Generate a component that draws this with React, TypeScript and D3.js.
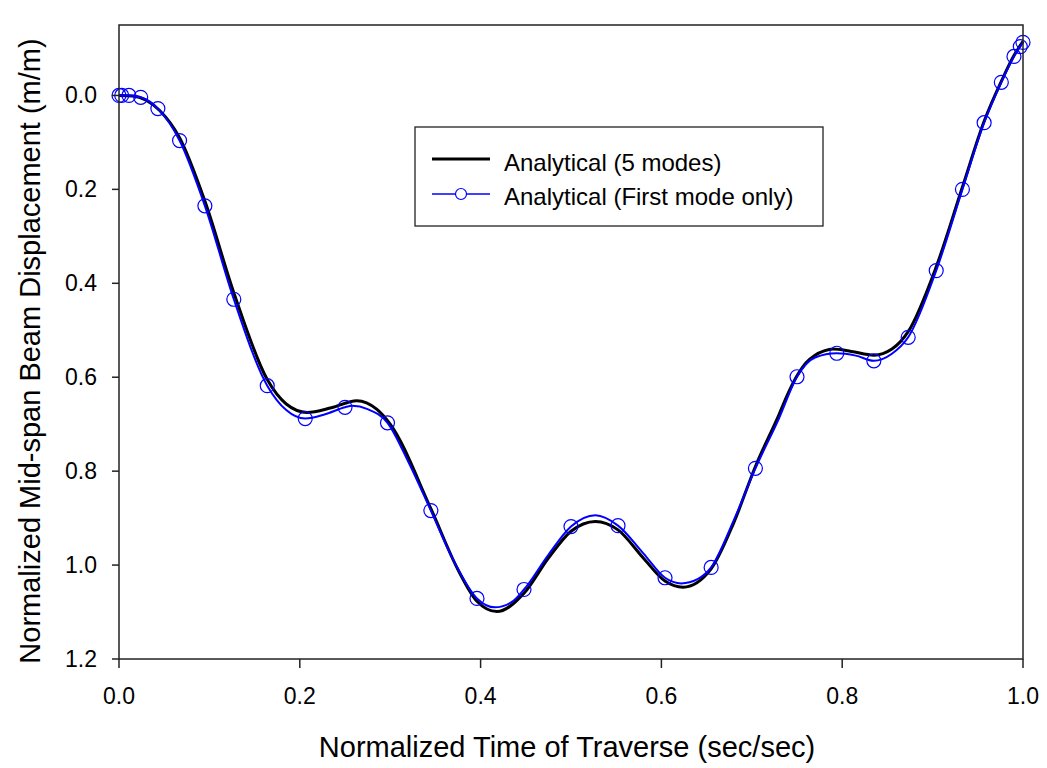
import React from "react";
import * as d3 from "d3";

// Normalized time of traverse (sec/sec) for the 5-mode solution
const fiveModeT = [
  0, 0.015, 0.03, 0.045, 0.067, 0.095, 0.127, 0.164, 0.185, 0.208, 0.235, 0.263,
  0.285, 0.3, 0.345, 0.375, 0.396, 0.418, 0.448, 0.475, 0.5, 0.527, 0.552, 0.58,
  0.604, 0.624, 0.655, 0.68, 0.704, 0.73, 0.74, 0.75, 0.76, 0.77, 0.78, 0.79,
  0.81, 0.835, 0.855, 0.873, 0.904, 0.933, 0.957, 0.976, 0.99, 1.0,
];
// Normalized mid-span displacement (m/m), 5 modes
const fiveModeDisp = [
  0, 0.001, 0.01, 0.032, 0.09, 0.225, 0.42, 0.605, 0.657, 0.675, 0.665, 0.65,
  0.668, 0.7, 0.88, 1.01, 1.077, 1.099, 1.06, 0.985, 0.928, 0.907, 0.925, 0.985,
  1.034, 1.047, 1.008, 0.91, 0.79, 0.68, 0.635, 0.597, 0.569, 0.553, 0.544, 0.54,
  0.545, 0.553, 0.54, 0.503, 0.365, 0.195, 0.055, -0.03, -0.085, -0.115,
];

// First-mode-only solution: continuous curve
const firstModeLineT = [
  0, 0.011, 0.024, 0.043, 0.067, 0.095, 0.127, 0.164, 0.185, 0.206, 0.228, 0.25,
  0.258, 0.275, 0.297, 0.32, 0.345, 0.37, 0.396, 0.416, 0.435, 0.448, 0.475, 0.5,
  0.527, 0.552, 0.58, 0.604, 0.622, 0.64, 0.655, 0.68, 0.704, 0.73, 0.75, 0.77,
  0.794, 0.815, 0.835, 0.855, 0.873, 0.904, 0.933, 0.957, 0.976, 0.99, 1.0,
];
const firstModeLineDisp = [
  0, 0, 0.004, 0.028, 0.096, 0.235, 0.434, 0.618, 0.67, 0.688, 0.679, 0.664,
  0.661, 0.668, 0.697, 0.78, 0.884, 0.99, 1.071, 1.09, 1.078, 1.052, 0.978, 0.918,
  0.894, 0.916, 0.975, 1.027, 1.039, 1.03, 1.005, 0.905, 0.794, 0.688, 0.599, 0.558,
  0.549, 0.554, 0.565, 0.55, 0.515, 0.373, 0.2, 0.058, -0.028, -0.083, -0.113,
];

// First-mode-only solution at the marker times
const firstModeT = [
  0, 0.003, 0.011, 0.024, 0.043, 0.067, 0.095, 0.127, 0.164, 0.206, 0.25, 0.297,
  0.345, 0.396, 0.448, 0.5, 0.552, 0.604, 0.655, 0.704, 0.75, 0.794, 0.835, 0.873,
  0.904, 0.933, 0.957, 0.976, 0.99, 0.997, 1.0,
];
const firstModeDisp = [
  0, 0, 0, 0.004, 0.028, 0.096, 0.235, 0.434, 0.618, 0.688, 0.664, 0.697,
  0.884, 1.071, 1.052, 0.918, 0.916, 1.027, 1.005, 0.794, 0.599, 0.549, 0.565,
  0.515, 0.373, 0.2, 0.058, -0.028, -0.083, -0.104, -0.113,
];

const xTicks = [0, 0.2, 0.4, 0.6, 0.8, 1.0];
const yTicks = [0, 0.2, 0.4, 0.6, 0.8, 1.0, 1.2];

const seriesNames = ["Analytical (5 modes)", "Analytical (First mode only)"];
const xTitle = "Normalized Time of Traverse (sec/sec)";
const yTitle = "Normalized Mid-span Beam Displacement (m/m)";

const W = 1047;
const H = 768;
const M = { left: 119, right: 1023, top: 25, bottom: 659 };
const FONT = "Arial, 'Liberation Sans', Helvetica, sans-serif";
const BLUE = "#0000ff";

export default function App() {
  const x = d3.scaleLinear().domain([0, 1]).range([M.left, M.right]);
  const y = d3.scaleLinear().domain([-0.15, 1.2]).range([M.top, M.bottom]);

  const line = d3
    .line<[number, number]>()
    .x((d) => x(d[0]))
    .y((d) => y(d[1]))
    .curve(d3.curveMonotoneX);

  const fivePts = fiveModeT.map((t, i) => [t, fiveModeDisp[i]] as [number, number]);
  const firstLinePts = firstModeLineT.map(
    (t, i) => [t, firstModeLineDisp[i]] as [number, number]
  );
  const markerPts = firstModeT.map((t, i) => [t, firstModeDisp[i]] as [number, number]);

  const tickLen = 7;
  const fmt = d3.format(".1f");

  const legX = 415;
  const legY = 127;
  const legW = 408;
  const legH = 99;

  return (
    <svg
      width={W}
      height={H}
      style={{ position: "absolute", left: 0, top: 0, background: "#fff" }}
      fontFamily={FONT}
    >
      <rect x={0} y={0} width={W} height={H} fill="#fff" />

      {/* plot curves */}
      <path d={line(fivePts) ?? ""} fill="none" stroke="#000" strokeWidth={3} />
      <path d={line(firstLinePts) ?? ""} fill="none" stroke={BLUE} strokeWidth={2} />
      {markerPts.map((p, i) => (
        <circle
          key={i}
          cx={x(p[0])}
          cy={y(p[1])}
          r={7}
          fill="none"
          stroke={BLUE}
          strokeWidth={1.2}
        />
      ))}

      {/* frame */}
      <rect
        x={M.left}
        y={M.top}
        width={M.right - M.left}
        height={M.bottom - M.top}
        fill="none"
        stroke="#222"
        strokeWidth={1.5}
      />

      {/* x axis ticks and labels */}
      {xTicks.map((t) => (
        <g key={"x" + t}>
          <line x1={x(t)} x2={x(t)} y1={M.bottom} y2={M.bottom + tickLen + 2} stroke="#222" strokeWidth={1.5} />
          <text x={x(t)} y={704} textAnchor="middle" fontSize={23} fill="#000">
            {fmt(t)}
          </text>
        </g>
      ))}

      {/* y axis ticks and labels */}
      {yTicks.map((t) => (
        <g key={"y" + t}>
          <line x1={M.left - tickLen} x2={M.left} y1={y(t)} y2={y(t)} stroke="#222" strokeWidth={1.5} />
          <text x={97} y={y(t)} dy="0.35em" textAnchor="end" fontSize={23} fill="#000">
            {fmt(t)}
          </text>
        </g>
      ))}

      {/* axis titles */}
      <text x={567} y={757} textAnchor="middle" fontSize={29} fill="#000">
        {xTitle}
      </text>
      <text
        transform={`translate(40, 351) rotate(-90)`}
        textAnchor="middle"
        fontSize={29}
        fill="#000"
      >
        {yTitle}
      </text>

      {/* legend */}
      <rect x={legX} y={legY} width={legW} height={legH} fill="#fff" stroke="#222" strokeWidth={1.3} />
      <line x1={432} x2={490} y1={159} y2={159} stroke="#000" strokeWidth={3} />
      <text x={504} y={171} fontSize={24} fill="#000">
        {seriesNames[0]}
      </text>
      <line x1={432} x2={490} y1={194} y2={194} stroke={BLUE} strokeWidth={1.5} />
      <circle cx={461} cy={194} r={5.5} fill="#fff" stroke={BLUE} strokeWidth={1.2} />
      <text x={504} y={205} fontSize={24} fill="#000">
        {seriesNames[1]}
      </text>
    </svg>
  );
}
